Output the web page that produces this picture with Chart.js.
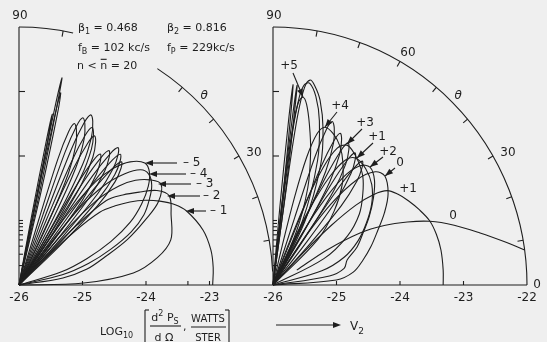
<!DOCTYPE html>
<html>
<head>
<meta charset="utf-8">
<script src="https://cdn.jsdelivr.net/npm/chart.js@4.4.1/dist/chart.umd.min.js"></script>
<style>
  html, body { margin: 0; padding: 0; background: #efefef; }
  canvas { display: block; }
</style>
</head>
<body>
<canvas id="lobes" width="547" height="342"></canvas>
<script>
// log10 of d2Ps/dOmega (watts/ster) at the plot origin
const FLOOR_DB = -26;

// tick labels along the baselines
const leftTickLabels = ['-26', '-25', '-24', '-23'];
const rightTickLabels = ['-26', '-25', '-24', '-23', '-22'];

// harmonic orders written next to the marked lobes
const leftOrders = ['-1', '-2', '-3', '-4', '-5'];
const rightOrders = ['0', '+1', '0', '+2', '+1', '+3', '+4', '+5'];

// each lobe: [theta in degrees, log10 power]
const leftLobes = [
  [[0, -22.95], [5, -22.93], [10.2, -22.93], [16.4, -22.98], [23.4, -23.12], [27, -23.25], [30.4, -23.43], [33.5, -23.62], [36.4, -23.83], [39, -24.05], [41.6, -24.3], [43.5, -24.8], [45, -25.5], [46, -26]],
  [[0.3, -26], [1.7, -24.98], [5.9, -24.19], [11, -23.78], [16.3, -23.51], [24.4, -23.37], [30.3, -23.26], [34, -23.38], [37.1, -23.61], [40.5, -23.85], [43.6, -24.1], [45.5, -24.7], [47, -25.5], [48, -26]],
  [[6, -26], [9, -25.3], [13, -24.9], [17.8, -24.58], [22.5, -24.15], [27.1, -23.75], [30.5, -23.45], [35, -23.27], [38.3, -23.37], [41.5, -23.55], [44.3, -23.8], [47, -24.2], [49, -24.9], [50.5, -26]],
  [[10, -26], [13, -25.3], [17, -24.85], [21, -24.45], [25, -24.05], [29, -23.75], [33, -23.55], [36.5, -23.4], [40.1, -23.33], [43, -23.38], [46, -23.6], [49, -23.95], [51.5, -24.5], [53, -25.3], [54, -26]],
  [[14, -26], [17, -25.3], [21, -24.85], [25, -24.4], [29, -24.0], [33, -23.7], [37, -23.45], [40.5, -23.3], [43.7, -23.26], [47.5, -23.41], [50.5, -23.65], [53, -24.0], [55, -24.6], [56.5, -25.4], [57.5, -26]]
];

const leftFineLobes = [
  [[43, -26], [43.5, -25.1], [44.8, -24.25], [46.6, -23.8], [48.4, -23.58], [49.8, -23.5], [50.8, -23.65], [51.6, -24.1], [51.9, -25.05], [52.1, -26]],
  [[45, -26], [45.5, -25.0], [46.8, -24.17], [48.6, -23.72], [50.4, -23.5], [51.8, -23.42], [52.8, -23.57], [53.6, -24.02], [53.9, -25.0], [54.1, -26]],
  [[47, -26], [47.5, -24.95], [48.8, -24.11], [50.6, -23.66], [52.4, -23.44], [53.8, -23.36], [54.8, -23.51], [55.6, -23.96], [55.9, -24.95], [56.1, -26]],
  [[49, -26], [49.5, -25.08], [50.8, -24.23], [52.6, -23.78], [54.4, -23.56], [55.8, -23.48], [56.8, -23.63], [57.6, -24.08], [57.9, -25.05], [58.1, -26]],
  [[51, -26], [51.5, -25.2], [52.8, -24.35], [54.6, -23.9], [56.4, -23.68], [57.8, -23.6], [58.8, -23.75], [59.6, -24.2], [59.9, -25.1], [60.1, -26]],
  [[56, -26], [56.5, -25.0], [57.8, -24.15], [59.6, -23.7], [61.4, -23.48], [62.8, -23.4], [63.8, -23.55], [64.6, -24.0], [64.9, -25.0], [65.1, -26]],
  [[58, -26], [58.5, -24.9], [59.8, -24.05], [61.6, -23.6], [63.4, -23.38], [64.8, -23.3], [65.8, -23.45], [66.6, -23.9], [66.9, -24.9], [67.1, -26]],
  [[60, -26], [60.5, -24.73], [61.8, -23.88], [63.6, -23.43], [65.4, -23.21], [66.8, -23.13], [67.8, -23.28], [68.6, -23.73], [68.9, -24.8], [69.1, -26]],
  [[62, -26], [62.5, -24.82], [63.8, -23.97], [65.6, -23.52], [67.4, -23.3], [68.8, -23.22], [69.8, -23.37], [70.6, -23.82], [70.9, -24.85], [71.1, -26]],
  [[64, -26], [64.5, -24.95], [65.8, -24.1], [67.6, -23.65], [69.4, -23.43], [70.8, -23.35], [71.8, -23.5], [72.6, -23.95], [72.9, -24.95], [73.1, -26]],
  [[75.5, -26], [76.5, -24.5], [77.2, -23.2], [77.6, -22.95], [77.9, -23.4], [78.3, -24.8], [78.6, -26]],
  [[76.5, -26], [77.3, -24.5], [77.9, -23.0], [78.1, -22.72], [78.4, -23.2], [78.8, -24.8], [79.1, -26]],
  [[77.5, -26], [78.2, -24.6], [78.6, -23.6], [78.8, -23.3], [79.1, -23.7], [79.5, -24.9], [79.8, -26]]
];

const rightLobes = [
  [[7.8, -22.0], [10.5, -22.3], [13.9, -22.64], [18, -23.0], [21.8, -23.34], [24.8, -23.67], [27.8, -24.02], [30.5, -24.41], [32.6, -24.99], [31.6, -25.56]],
  [[0, -23.32], [5, -23.31], [11.6, -23.3], [17, -23.31], [22, -23.34], [27, -23.42], [31.5, -23.5], [35.5, -23.58], [39.1, -23.68], [41.5, -23.88], [43.5, -24.2], [45.2, -24.7], [46.4, -25.3], [47.2, -26]],
  [[2, -26], [4.5, -25.0], [9, -24.72], [15.3, -24.53], [21, -24.35], [27.3, -24.14], [32.5, -23.92], [38, -23.7], [43.8, -23.56], [47.5, -23.62], [51, -23.9], [54, -24.45], [56, -25.2], [57, -26]],
  [[6, -26], [9, -25.1], [13, -24.85], [18.4, -24.77], [24, -24.55], [29.6, -24.37], [35, -24.15], [40.5, -23.92], [45.5, -23.72], [50.1, -23.62], [53.5, -23.7], [56.5, -24.0], [59, -24.6], [60.5, -25.3], [61.5, -26]],
  [[12, -26], [16, -25.2], [21, -24.8], [27, -24.5], [33, -24.25], [39, -24.0], [45, -23.8], [51, -23.68], [56.4, -23.64], [59.5, -23.75], [62, -24.1], [64, -24.7], [65.2, -25.4], [66, -26]],
  [[22, -26], [27, -25.1], [33, -24.6], [39, -24.25], [45, -24.0], [50, -23.8], [55, -23.66], [59, -23.57], [61.8, -23.54], [64.5, -23.65], [66.5, -24.0], [68, -24.6], [69, -25.4], [69.6, -26]],
  [[40, -26], [45, -25.0], [50, -24.5], [55, -24.1], [60, -23.8], [64, -23.6], [68, -23.47], [71.5, -23.42], [73.5, -23.55], [75, -23.95], [76, -24.6], [76.6, -25.4], [77, -26]],
  [[62, -26], [66, -25.1], [70, -24.4], [74, -23.85], [77, -23.45], [79.3, -23.15], [80.8, -23.05], [82, -23.15], [82.8, -23.6], [83.3, -24.4], [83.6, -25.3], [83.8, -26]]
];

const rightFineLobes = [
  [[47, -26], [47.5, -25.22], [48.8, -24.37], [50.6, -23.92], [52.4, -23.7], [53.8, -23.62], [54.8, -23.77], [55.6, -24.22], [55.9, -25.1], [56.1, -26]],
  [[51, -26], [51.5, -25.18], [52.8, -24.33], [54.6, -23.88], [56.4, -23.66], [57.8, -23.58], [58.8, -23.73], [59.6, -24.18], [59.9, -25.1], [60.1, -26]],
  [[55, -26], [55.5, -25.1], [56.8, -24.25], [58.6, -23.8], [60.4, -23.58], [61.8, -23.5], [62.8, -23.65], [63.6, -24.1], [63.9, -25.05], [64.1, -26]],
  [[59, -26], [59.5, -25.02], [60.8, -24.17], [62.6, -23.72], [64.4, -23.5], [65.8, -23.42], [66.8, -23.57], [67.6, -24.02], [67.9, -25.0], [68.1, -26]],
  [[63, -26], [63.5, -24.9], [64.8, -24.05], [66.6, -23.6], [68.4, -23.38], [69.8, -23.3], [70.8, -23.45], [71.6, -23.9], [71.9, -24.9], [72.1, -26]],
  [[58, -26], [63, -24.9], [68, -24.0], [72, -23.45], [75.5, -23.04], [78, -22.84], [79.6, -22.77], [80.8, -22.9], [81.6, -23.35], [82, -24.3], [82.3, -26]],
  [[60, -26], [65, -24.9], [70, -23.95], [74, -23.35], [77, -23.0], [79.5, -22.82], [80.9, -22.85], [81.9, -23.05], [82.6, -23.6], [83, -24.6], [83.2, -26]],
  [[81.5, -26], [82.2, -24.5], [82.8, -23.3], [83, -22.88], [83.3, -23.4], [83.7, -24.8], [84, -26]],
  [[83, -26], [83.6, -24.5], [84, -23.2], [84.2, -22.88], [84.5, -23.4], [84.9, -24.8], [85.2, -26]]
];

const INK = '#1e1e1e';
const FONT = '"DejaVu Sans", sans-serif';
const RAD = Math.PI / 180;
const RIM = 4;          // outer circle, decades above the floor
const RIGHT_SHIFT = 4;  // right panel origin, in the same units

// polar (theta, log10 P) -> x/y in decades above the floor
function polarPoints(lobe, shift) {
  return lobe.map(([deg, logP]) => {
    const r = logP - FLOOR_DB;
    return { x: shift + r * Math.cos(deg * RAD), y: r * Math.sin(deg * RAD) };
  });
}

function lobeSet(label, data) {
  return {
    label, data,
    showLine: true,
    pointRadius: 0,
    borderColor: INK,
    borderWidth: 1.1,
    tension: 0.35,
    fill: false
  };
}

const datasets = [
  ...leftLobes.map((l, i) => lobeSet(leftOrders[i], polarPoints(l, 0))),
  ...leftFineLobes.map(l => lobeSet('', polarPoints(l, 0))),
  ...rightLobes.map((l, i) => lobeSet(rightOrders[i], polarPoints(l, RIGHT_SHIFT))),
  ...rightFineLobes.map(l => lobeSet('', polarPoints(l, RIGHT_SHIFT)))
];

const panels = [
  { shift: 0, ticks: leftTickLabels, arcs: [[77.7, 90], [3, 57]], rimTicks: [80, 50, 40, 30, 20, 10], extraTicks: [-23.34] },
  { shift: RIGHT_SHIFT, ticks: rightTickLabels, arcs: [[0, 90]], rimTicks: [80, 70, 60, 50, 40, 30, 20, 10], extraTicks: [] }
];

function seg(ctx, x0, y0, x1, y1) {
  ctx.beginPath();
  ctx.moveTo(x0, y0);
  ctx.lineTo(x1, y1);
  ctx.stroke();
}

function geom(chart) {
  const { x, y } = chart.scales;
  const X = v => x.getPixelForValue(v);
  const Y = v => y.getPixelForValue(v);
  const pol = (shift, r, deg) => [X(shift + r * Math.cos(deg * RAD)), Y(r * Math.sin(deg * RAD))];
  return { X, Y, pol };
}

// text with sub/superscripts; parts = [[text, kind]], kind: n | sub | sup | bar
function richText(ctx, x, y, parts, size, align) {
  const fontFor = k => (k === 'sub' || k === 'sup' ? Math.round(size * 0.72) : size) + 'px ' + FONT;
  let width = 0;
  for (const [t, k] of parts) { ctx.font = fontFor(k); width += ctx.measureText(t).width; }
  let cx = align === 'center' ? x - width / 2 : x;
  ctx.textAlign = 'left';
  ctx.textBaseline = 'alphabetic';
  for (const [t, k] of parts) {
    ctx.font = fontFor(k);
    const dy = k === 'sub' ? size * 0.3 : k === 'sup' ? -size * 0.42 : 0;
    ctx.fillText(t, cx, y + dy);
    const w = ctx.measureText(t).width;
    if (k === 'bar') seg(ctx, cx + 0.5, y - size * 0.88, cx + w - 0.5, y - size * 0.88);
    cx += w;
  }
  return width;
}

function arrowHead(ctx, tx, ty, fromX, fromY, len, half) {
  const a = Math.atan2(ty - fromY, tx - fromX);
  ctx.beginPath();
  ctx.moveTo(tx, ty);
  ctx.lineTo(tx - len * Math.cos(a) - half * Math.sin(a), ty - len * Math.sin(a) + half * Math.cos(a));
  ctx.lineTo(tx - len * Math.cos(a) + half * Math.sin(a), ty - len * Math.sin(a) - half * Math.cos(a));
  ctx.closePath();
  ctx.fill();
}

const polarFrame = {
  id: 'polarFrame',
  beforeDatasetsDraw(chart) {
    const { ctx } = chart;
    const { X, Y, pol } = geom(chart);
    ctx.save();
    ctx.strokeStyle = INK;
    ctx.fillStyle = INK;
    ctx.lineWidth = 1.1;

    // one baseline runs under both panels
    seg(ctx, X(0), Y(0), X(RIGHT_SHIFT + RIM), Y(0));

    for (const p of panels) {
      const cx = X(p.shift), cy = Y(0);
      seg(ctx, cx, cy, cx, Y(RIM));

      const rx = X(p.shift + RIM) - cx, ry = cy - Y(RIM);
      for (const [a0, a1] of p.arcs) {
        ctx.beginPath();
        ctx.ellipse(cx, cy, rx, ry, 0, -a1 * RAD, -a0 * RAD);
        ctx.stroke();
      }
      for (const deg of p.rimTicks) {
        const [x0, y0] = pol(p.shift, RIM, deg);
        const [x1, y1] = pol(p.shift, RIM - 0.09, deg);
        seg(ctx, x0, y0, x1, y1);
      }

      // log ticks on the vertical axis
      for (let k = 2; k <= 10; k++) {
        const yy = Y(Math.log10(k));
        seg(ctx, cx, yy, cx + 4, yy);
      }
      for (const d of [2, 3]) seg(ctx, cx, Y(d), cx + 6, Y(d));

      // baseline ticks and labels
      ctx.font = '12px ' + FONT;
      ctx.textAlign = 'center';
      ctx.textBaseline = 'middle';
      for (const lab of p.ticks) {
        const v = Number(lab) - FLOOR_DB;
        const xx = X(p.shift + v);
        if (v > 0 && v < RIM) seg(ctx, xx, cy, xx, cy - 4);
        ctx.fillText(lab, xx, cy + 13);
      }
      for (const v of p.extraTicks) {
        const xx = X(p.shift + v - FLOOR_DB);
        seg(ctx, xx, cy, xx, cy - 4);
      }

      // angle labels
      ctx.fillText('90', cx + 1, Y(RIM) - 11);
      const [a30x, a30y] = pol(p.shift, RIM, 30);
      ctx.fillText('30', a30x + 15, a30y - 3);
      const [thx, thy] = pol(p.shift, RIM, 47);
      ctx.font = 'italic 12px ' + FONT;
      ctx.fillText('θ', thx + 12, thy);
      ctx.font = '12px ' + FONT;
    }
    const [a60x, a60y] = pol(RIGHT_SHIFT, RIM, 60);
    ctx.fillText('60', a60x + 8, a60y - 9);
    ctx.fillText('0', X(RIGHT_SHIFT + RIM) + 10, Y(0));
    ctx.restore();
  },
  afterDatasetsDraw(chart) {
    const { ctx } = chart;
    ctx.save();
    ctx.strokeStyle = INK;
    ctx.fillStyle = INK;
    ctx.lineWidth = 1.1;

    // run parameters
    richText(ctx, 78, 31, [['β', 'n'], ['1', 'sub'], [' = 0.468', 'n']], 11);
    richText(ctx, 167, 31, [['β', 'n'], ['2', 'sub'], [' = 0.816', 'n']], 11);
    richText(ctx, 78, 51, [['f', 'n'], ['B', 'sub'], [' = 102 kc/s', 'n']], 11);
    richText(ctx, 167, 51, [['f', 'n'], ['P', 'sub'], [' = 229kc/s', 'n']], 11);
    richText(ctx, 77, 69, [['n < ', 'n'], ['n', 'bar'], [' = 20', 'n']], 11);

    // left panel: horizontal arrows, orders -1 .. -5
    const leftArrows = [
      { tip: [186, 211], end: 206, text: 210 },
      { tip: [167, 196], end: 200, text: 203 },
      { tip: [158, 184], end: 191, text: 196 },
      { tip: [149, 174], end: 186, text: 190 },
      { tip: [145, 163], end: 177, text: 183 }
    ];
    ctx.font = '12px ' + FONT;
    ctx.textAlign = 'left';
    ctx.textBaseline = 'middle';
    leftArrows.forEach((a, i) => {
      seg(ctx, a.tip[0] + 5, a.tip[1], a.end, a.tip[1]);
      arrowHead(ctx, a.tip[0], a.tip[1], a.end, a.tip[1], 8, 3);
      ctx.fillText('– ' + leftOrders[i].slice(1), a.text, a.tip[1]);
    });

    // right panel: slanted arrows
    const rightArrows = [
      { order: '+5', label: [289, 66], from: [293, 73], tip: [303, 97] },
      { order: '+4', label: [340, 106], from: [337, 112], tip: [325, 127] },
      { order: '+3', label: [365, 123], from: [362, 129], tip: [347, 144] },
      { order: '+1', label: [377, 137], from: [373, 143], tip: [357, 158] },
      { order: '+2', label: [388, 152], from: [383, 157], tip: [370, 167] },
      { order: '0', label: [400, 163], from: [395, 168], tip: [385, 176] }
    ];
    ctx.textAlign = 'center';
    for (const a of rightArrows) {
      ctx.fillText(a.order, a.label[0], a.label[1]);
      seg(ctx, a.from[0], a.from[1], a.tip[0], a.tip[1]);
      arrowHead(ctx, a.tip[0], a.tip[1], a.from[0], a.from[1], 8, 3);
    }
    ctx.fillText(rightOrders[1], 408, 189);
    ctx.fillText(rightOrders[0], 453, 216);

    // axis title
    richText(ctx, 100, 335, [['LOG', 'n'], ['10', 'sub']], 11);
    seg(ctx, 145, 310, 145, 343);
    seg(ctx, 145, 310, 149, 310);
    seg(ctx, 229, 310, 229, 343);
    seg(ctx, 225, 310, 229, 310);
    richText(ctx, 165, 321, [['d', 'n'], ['2', 'sup'], [' P', 'n'], ['S', 'sub']], 11, 'center');
    seg(ctx, 150, 326, 181, 326);
    richText(ctx, 164, 341, [['d Ω', 'n']], 11, 'center');
    richText(ctx, 183, 330, [[',', 'n']], 11);
    richText(ctx, 208, 322, [['WATTS', 'n']], 10, 'center');
    seg(ctx, 191, 327, 226, 327);
    richText(ctx, 208, 341, [['STER', 'n']], 10, 'center');

    seg(ctx, 276, 325, 334, 325);
    arrowHead(ctx, 341, 325, 276, 325, 8, 3);
    richText(ctx, 350, 330, [['V', 'n'], ['2', 'sub']], 12);
    ctx.restore();
  }
};

new Chart(document.getElementById('lobes'), {
  type: 'scatter',
  data: { datasets },
  options: {
    responsive: false,
    animation: false,
    layout: { padding: 0 },
    plugins: { legend: { display: false }, tooltip: { enabled: false } },
    scales: {
      x: { type: 'linear', display: false, min: -19 / 63.5, max: 528 / 63.5 },
      y: { type: 'linear', display: false, min: -57 / 64.5, max: 285 / 64.5 }
    }
  },
  plugins: [polarFrame]
});
</script>
</body>
</html>
